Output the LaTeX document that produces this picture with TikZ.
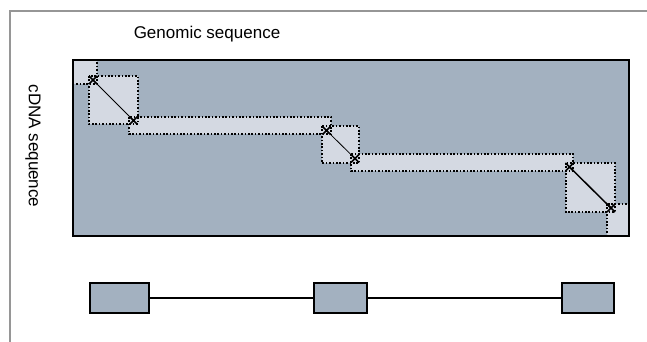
\documentclass[tikz,border=0pt]{standalone}
\usepackage{fontspec}
\setmainfont{Liberation Sans}
\usetikzlibrary{shapes.misc}

\definecolor{panel}{RGB}{163,177,192}
\definecolor{hitfill}{RGB}{212,217,226}
\definecolor{framegray}{RGB}{150,150,150}

\begin{document}
\begin{tikzpicture}[
	x=1pt, y=-1pt,
	block/.style={fill=panel, draw=black, line width=1.4pt},
	hitbox/.style={draw=black, line width=1.5pt, dash pattern=on 1.6pt off 1.8pt},
	hit/.style={cross out, draw=black, line width=1.6pt, minimum size=6.5pt, inner sep=0pt},
	exon/.style={block, minimum height=30pt, inner sep=0pt},
	label/.style={font=\fontsize{17}{20}\selectfont}]
	\useasboundingbox (0,0) rectangle (647,342);
	%frame
	\draw [framegray, line width=1.5pt] (10,342) -- (10,11) -- (647,11);
	\node[label] (gen) at (207,34) {Genomic sequence};
	\node[label, rotate=-90] (cdna) at (33,146) {cDNA sequence};
	%dot plot
	\fill [panel] (73,60) rectangle (629,236);
	\foreach \a/\b/\c/\d in {73/60/97/84, 89/76/138/124, 129/117/331/134,
		322/126/359/163, 351/154/573/171, 566/163/615/212, 607/204/629/236}
		\fill [hitfill] (\a,\b) rectangle (\c,\d);
	\foreach \a/\b/\c/\d in {73/60/97/84, 89/76/138/124, 129/117/331/134,
		322/126/359/163, 351/154/573/171, 566/163/615/212, 607/204/629/236}
		\draw [hitbox] (\a,\b) rectangle (\c,\d);
	\node[hit] (h1) at (93,80) {};
	\node[hit] (h2) at (133.5,120.5) {};
	\node[hit] (h3) at (326.5,130.5) {};
	\node[hit] (h4) at (355,158.5) {};
	\node[hit] (h5) at (569.5,167) {};
	\node[hit] (h6) at (611,208) {};
	\draw [line width=0.8pt] (h1.center) -- (h2.center);
	\draw [line width=0.8pt] (h3.center) -- (h4.center);
	\draw [line width=1.5pt] (h5.center) -- (h6.center);
	\draw [line width=1.4pt] (73,60) rectangle (629,236);
	%gene model
	\node[exon, minimum width=59pt] (e1) at (119.5,298) {};
	\node[exon, minimum width=53pt] (e2) at (340.5,298) {};
	\node[exon, minimum width=52pt] (e3) at (588,298) {};
	\draw [line width=1.3pt] (e1) -- (e2) -- (e3);
\end{tikzpicture}
\end{document}
